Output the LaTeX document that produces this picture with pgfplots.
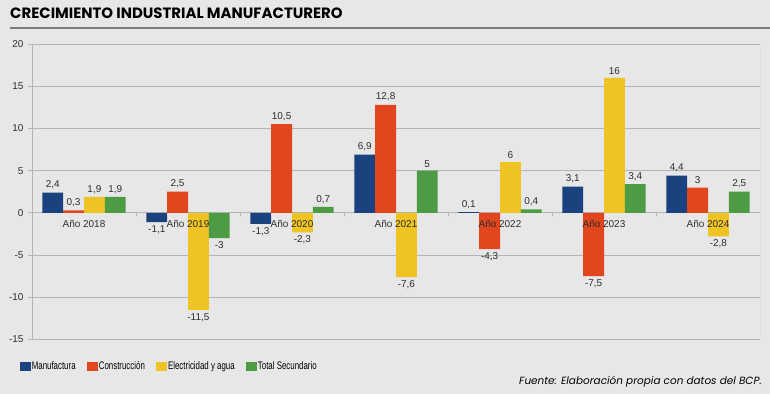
\documentclass[border=0pt]{standalone}
\usepackage{pgfplots}
\pgfplotsset{compat=1.18}
\usepackage{fontspec}
\setmainfont{Liberation Sans}
\newfontfamily\titlefont{Poppins}
\newfontfamily\narrowfont{Liberation Sans}[FakeStretch=0.72]
\definecolor{bgc}{HTML}{E7E7E8}
\definecolor{cblue}{HTML}{1A427F}
\definecolor{cred}{HTML}{E1461F}
\definecolor{cyel}{HTML}{EEC323}
\definecolor{cgreen}{HTML}{4E9B45}
\definecolor{gridgray}{HTML}{B4B4B6}
\definecolor{rulegray}{HTML}{7C7C7E}
\definecolor{txt}{HTML}{2E2E2E}
\begin{document}
\begin{tikzpicture}
\fill[bgc] (0,0) rectangle (770bp,394bp);
\node[anchor=base west, inner sep=0pt, text=black] at (10bp,375.7bp) {\titlefont\bfseries\fontsize{15}{17}\selectfont CRECIMIENTO INDUSTRIAL MANUFACTURERO};
\draw[line width=2bp, rulegray] (9.5bp,366.3bp) -- (770bp,366.3bp);
\begin{axis}[
  at={(32bp,54.5bp)}, anchor=south west,
  scale only axis, width=728bp, height=295.5bp,
  xmin=-0.5, xmax=6.5, ymin=-15, ymax=20,
  ytick={-15,-10,...,20},
  xtick={0.5,1.5,...,5.5}, xticklabels={},
  axis x line=middle, axis y line=left,
  axis line style={-, draw=gridgray, line width=0.8bp},
  tick style={draw=gridgray, line width=0.8bp},
  major tick length=3.5bp, tick align=outside,
  ymajorgrids, grid style={draw=gridgray, line width=0.8bp},
  yticklabel style={font=\fontsize{10}{12}\selectfont, text=txt, xshift=-1.5bp},
  ybar, bar width=0.2,
  legend image code/.code={\fill[#1] (0bp,-4.8bp) rectangle (11bp,4.8bp);},
  nodes near coords,
  nodes near coords style={font=\fontsize{10}{12}\selectfont, text=txt},
  /pgf/number format/.cd, use comma, 1000 sep={}, assume math mode=true,
  /pgfplots/.cd,
  legend columns=4,
  legend style={at={(-0.0165,-0.0914)}, anchor=west, draw=none, fill=none,
    font=\narrowfont\fontsize{11}{12}\selectfont, inner sep=0pt,
    nodes={inner sep=0.6bp},
    /tikz/every even column/.append style={column sep=11bp}},
  legend cell align=left,
]
\addplot[fill=cblue, draw=none, bar shift=-0.3] coordinates {(0,2.4) (1,-1.1) (2,-1.3) (3,6.9) (4,0.1) (5,3.1) (6,4.4)};
\addplot[fill=cred, draw=none, bar shift=-0.1] coordinates {(0,0.3) (1,2.5) (2,10.5) (3,12.8) (4,-4.3) (5,-7.5) (6,3)};
\addplot[fill=cyel, draw=none, bar shift=0.1] coordinates {(0,1.9) (1,-11.5) (2,-2.3) (3,-7.6) (4,6) (5,16) (6,-2.8)};
\addplot[fill=cgreen, draw=none, bar shift=0.3] coordinates {(0,1.9) (1,-3) (2,0.7) (3,5) (4,0.4) (5,3.4) (6,2.5)};
\legend{Manufactura, Construcción, Electricidad y agua, Total Secundario}
\draw[gridgray, line width=0.8bp] (rel axis cs:1,0) -- (rel axis cs:1,1);
\node[anchor=north, yshift=-6bp, inner sep=1bp, font=\fontsize{10}{12}\selectfont, text=txt] at (axis cs:0,0) {Año 2018};
\node[anchor=north, yshift=-6bp, inner sep=1bp, font=\fontsize{10}{12}\selectfont, text=txt] at (axis cs:1,0) {Año 2019};
\node[anchor=north, yshift=-6bp, inner sep=1bp, font=\fontsize{10}{12}\selectfont, text=txt] at (axis cs:2,0) {Año 2020};
\node[anchor=north, yshift=-6bp, inner sep=1bp, font=\fontsize{10}{12}\selectfont, text=txt] at (axis cs:3,0) {Año 2021};
\node[anchor=north, yshift=-6bp, inner sep=1bp, font=\fontsize{10}{12}\selectfont, text=txt] at (axis cs:4,0) {Año 2022};
\node[anchor=north, yshift=-6bp, inner sep=1bp, font=\fontsize{10}{12}\selectfont, text=txt] at (axis cs:5,0) {Año 2023};
\node[anchor=north, yshift=-6bp, inner sep=1bp, font=\fontsize{10}{12}\selectfont, text=txt] at (axis cs:6,0) {Año 2024};
\end{axis}
\node[anchor=east, inner sep=0pt, text=black] at (762bp,12bp) {\titlefont\itshape\fontsize{10.5}{12}\selectfont Fuente: Elaboración propia con datos del BCP.};
\pgfresetboundingbox
\path (0,0) rectangle (770bp,394bp);
\end{tikzpicture}
\end{document}
